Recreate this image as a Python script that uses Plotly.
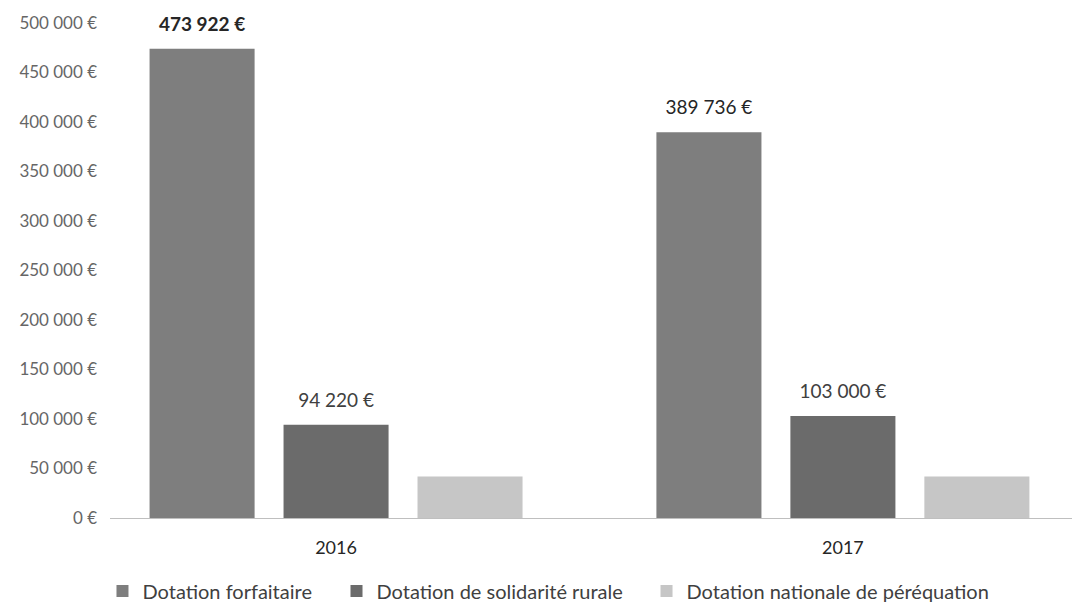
import plotly.graph_objects as go

years = ["2016", "2017"]
series_names = ["Dotation forfaitaire", "Dotation de solidarité rurale", "Dotation nationale de péréquation"]
forfaitaire = [473922, 389736]
solidarite = [94220, 103000]
perequation = [42000, 42000]
forfaitaire_labels = ["<b>473 922 €</b>", "389 736 €"]
solidarite_labels = ["94 220 €", "103 000 €"]
tick_values = [0, 50000, 100000, 150000, 200000, 250000, 300000, 350000, 400000, 450000, 500000]
tick_labels = ["0 €", "50\u202f000 €", "100\u202f000 €", "150\u202f000 €", "200\u202f000 €", "250\u202f000 €",
               "300\u202f000 €", "350\u202f000 €", "400\u202f000 €", "450\u202f000 €", "500\u202f000 €"]

colors = ["#7e7e7e", "#6b6b6b", "#c6c6c6"]
FONT = "Lato, 'Open Sans', sans-serif"
LABEL_TEMPLATE = "<span style='font-size:19px'>%{text}</span><br>\u00a0"

fig = go.Figure()
fig.add_trace(go.Bar(name=series_names[0], x=years, y=forfaitaire, marker_color=colors[0],
                     text=forfaitaire_labels, texttemplate=LABEL_TEMPLATE, textposition="outside",
                     textfont=dict(size=10, color="#262626", family=FONT), cliponaxis=False,
                     legend="legend"))
fig.add_trace(go.Bar(name=series_names[1], x=years, y=solidarite, marker_color=colors[1],
                     text=solidarite_labels, texttemplate=LABEL_TEMPLATE, textposition="outside",
                     textfont=dict(size=10, color="#404040", family=FONT), cliponaxis=False,
                     legend="legend2"))
fig.add_trace(go.Bar(name=series_names[2], x=years, y=perequation, marker_color=colors[2],
                     legend="legend3"))

fig.update_traces(marker_line_width=0)

legend_style = dict(orientation="h", xref="container", xanchor="left", y=-0.108, yanchor="top",
                    font=dict(size=20, color="#404040", family=FONT), itemwidth=30,
                    bgcolor="rgba(0,0,0,0)")

fig.update_layout(
    width=1072, height=603,
    paper_bgcolor="white", plot_bgcolor="white",
    margin=dict(l=110, r=0, t=23, b=85, autoexpand=False),
    barmode="group", bargap=0.207, bargroupgap=0.216,
    font=dict(family=FONT, color="#595959", size=15),
    showlegend=True,
    legend=dict(legend_style, x=0.0956),
    legend2=dict(legend_style, x=0.3139),
    legend3=dict(legend_style, x=0.6031),
    xaxis=dict(type="category", range=[-0.446, 1.452], showgrid=False, ticks="",
               showline=True, linecolor="#bfbfbf", linewidth=1,
               tickfont=dict(size=18, color="#262626", family=FONT), ticklabelstandoff=13),
    yaxis=dict(range=[0, 500000], tickvals=tick_values, ticktext=tick_labels,
               showgrid=False, zeroline=False, showline=False, ticks="",
               tickfont=dict(size=17, color="#666666", family=FONT), ticklabelstandoff=12),
)

fig.write_html("out.html")
